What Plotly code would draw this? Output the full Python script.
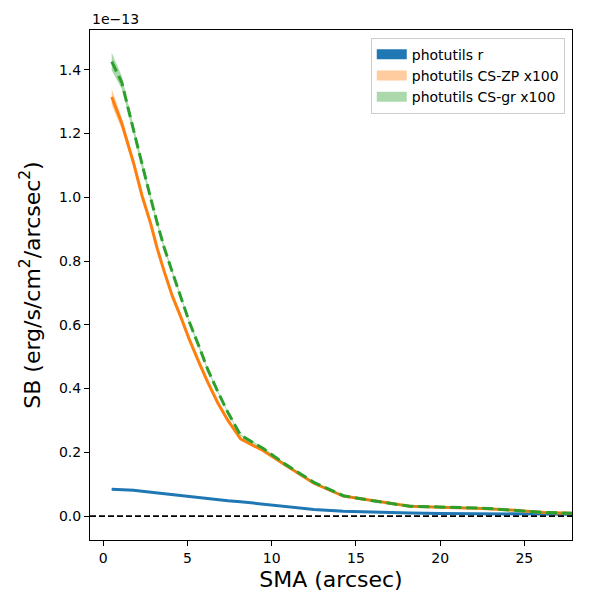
import plotly.graph_objects as go

# SMA in arcsec, SB in units of 1e-13 erg/s/cm^2/arcsec^2
sma = [0.5, 1.1, 1.8, 2.3, 2.8, 3.2, 3.6, 4.1, 4.6, 5.1, 5.7, 6.2, 6.8, 7.4, 8.15,
       9.5, 10.8, 12.5, 14.25, 16.0, 18.2, 20.0, 21.2, 22.5, 24.2, 26.2, 28.0]

sb_r = [0.084, 0.0835, 0.081, 0.078, 0.075, 0.0725, 0.070, 0.067, 0.064, 0.0605,
        0.057, 0.054, 0.051, 0.048, 0.045, 0.038, 0.031, 0.021, 0.015, 0.012,
        0.0095, 0.0085, 0.008, 0.0075, 0.0068, 0.006, 0.0055]
err_r = [0.002, 0.002, 0.002, 0.002, 0.0015, 0.0015, 0.0015, 0.0015, 0.0015, 0.0012,
         0.0012, 0.0012, 0.0012, 0.001, 0.001, 0.001, 0.001, 0.001, 0.001, 0.001,
         0.001, 0.001, 0.001, 0.001, 0.001, 0.001, 0.001]

sb_zp = [1.315, 1.232, 1.107, 1.005, 0.920, 0.840, 0.770, 0.690, 0.625, 0.555,
         0.480, 0.420, 0.355, 0.300, 0.242, 0.205, 0.160, 0.103, 0.063, 0.048,
         0.031, 0.028, 0.027, 0.024, 0.019, 0.011, 0.009]
err_zp = [0.025, 0.018, 0.012, 0.010, 0.008, 0.007, 0.006, 0.005, 0.005, 0.004,
          0.004, 0.003, 0.003, 0.003, 0.003, 0.003, 0.002, 0.002, 0.002, 0.002,
          0.002, 0.002, 0.002, 0.002, 0.002, 0.002, 0.002]

sb_gr = [1.426, 1.360, 1.210, 1.100, 1.000, 0.920, 0.845, 0.765, 0.690, 0.610,
         0.530, 0.460, 0.390, 0.325, 0.254, 0.212, 0.163, 0.106, 0.064, 0.048,
         0.031, 0.028, 0.027, 0.025, 0.019, 0.011, 0.009]
err_gr = [0.028, 0.020, 0.013, 0.011, 0.009, 0.008, 0.007, 0.006, 0.006, 0.005,
          0.005, 0.004, 0.004, 0.003, 0.003, 0.003, 0.002, 0.002, 0.002, 0.002,
          0.002, 0.002, 0.002, 0.002, 0.002, 0.002, 0.002]

series = [
    ("photutils r", sb_r, err_r, "#1f77b4", "rgba(31,119,180,1)", "solid"),
    ("photutils CS-ZP x100", sb_zp, err_zp, "#ff7f0e", "rgba(255,127,14,0.4)", "solid"),
    ("photutils CS-gr x100", sb_gr, err_gr, "#2ca02c", "rgba(44,160,44,0.4)", "11px,5px"),
]

fig = go.Figure()
for name, y, e, col, fcol, dash in series:
    upper = [a + b for a, b in zip(y, e)]
    lower = [a - b for a, b in zip(y, e)]
    # error band
    fig.add_trace(go.Scatter(
        x=sma + sma[::-1], y=upper + lower[::-1],
        fill="toself", fillcolor=fcol, line=dict(width=0),
        mode="lines", showlegend=False, hoverinfo="skip",
    ))
    fig.add_trace(go.Scatter(
        x=sma, y=y, mode="lines", showlegend=False,
        line=dict(color=col, width=3, dash=dash),
    ))
    # legend-only entry: thick line looks like the matplotlib patch
    fig.add_trace(go.Scatter(
        x=[None], y=[None], mode="lines", name=name,
        line=dict(color=fcol, width=10),
    ))

fig.add_shape(type="line", xref="paper", yref="y", x0=0, x1=1, y0=0, y1=0,
              line=dict(color="black", width=1.6, dash="6px,3px"))

fig.add_annotation(text="1e\u221213", xref="paper", yref="paper", x=0, y=1,
                   xanchor="left", yanchor="bottom", showarrow=False,
                   font=dict(size=14, color="black"), yshift=1)

axis_style = dict(showline=True, linecolor="black", linewidth=1, mirror=True,
                  ticks="outside", ticklen=5, tickcolor="black", showgrid=False,
                  zeroline=False, tickfont=dict(size=14, color="black"),
                  automargin=False)

# page body adds an 8px offset, so the figure is a bit smaller than the window
fig.update_layout(
    width=592, height=592,
    margin=dict(l=82, r=28, t=22, b=60),
    plot_bgcolor="white", paper_bgcolor="white",
    font=dict(family="DejaVu Sans", color="black"),
    xaxis=dict(range=[-0.79, 27.83], tickvals=[0, 5, 10, 15, 20, 25],
               title=dict(text="SMA (arcsec)", font=dict(size=22), standoff=6),
               **axis_style),
    yaxis=dict(range=[-0.075, 1.525], tickvals=[0, 0.2, 0.4, 0.6, 0.8, 1.0, 1.2, 1.4],
               tickformat=".1f",
               title=dict(text="SB (erg/s/cm<sup>2</sup>/arcsec<sup>2</sup>)",
                          font=dict(size=22), standoff=12),
               **axis_style),
    legend=dict(x=0.985, y=0.985, xanchor="right", yanchor="top",
                bgcolor="rgba(255,255,255,0.8)", bordercolor="#cccccc",
                borderwidth=1, font=dict(size=14), tracegroupgap=0),
    showlegend=True,
)

fig.write_html("out.html")
